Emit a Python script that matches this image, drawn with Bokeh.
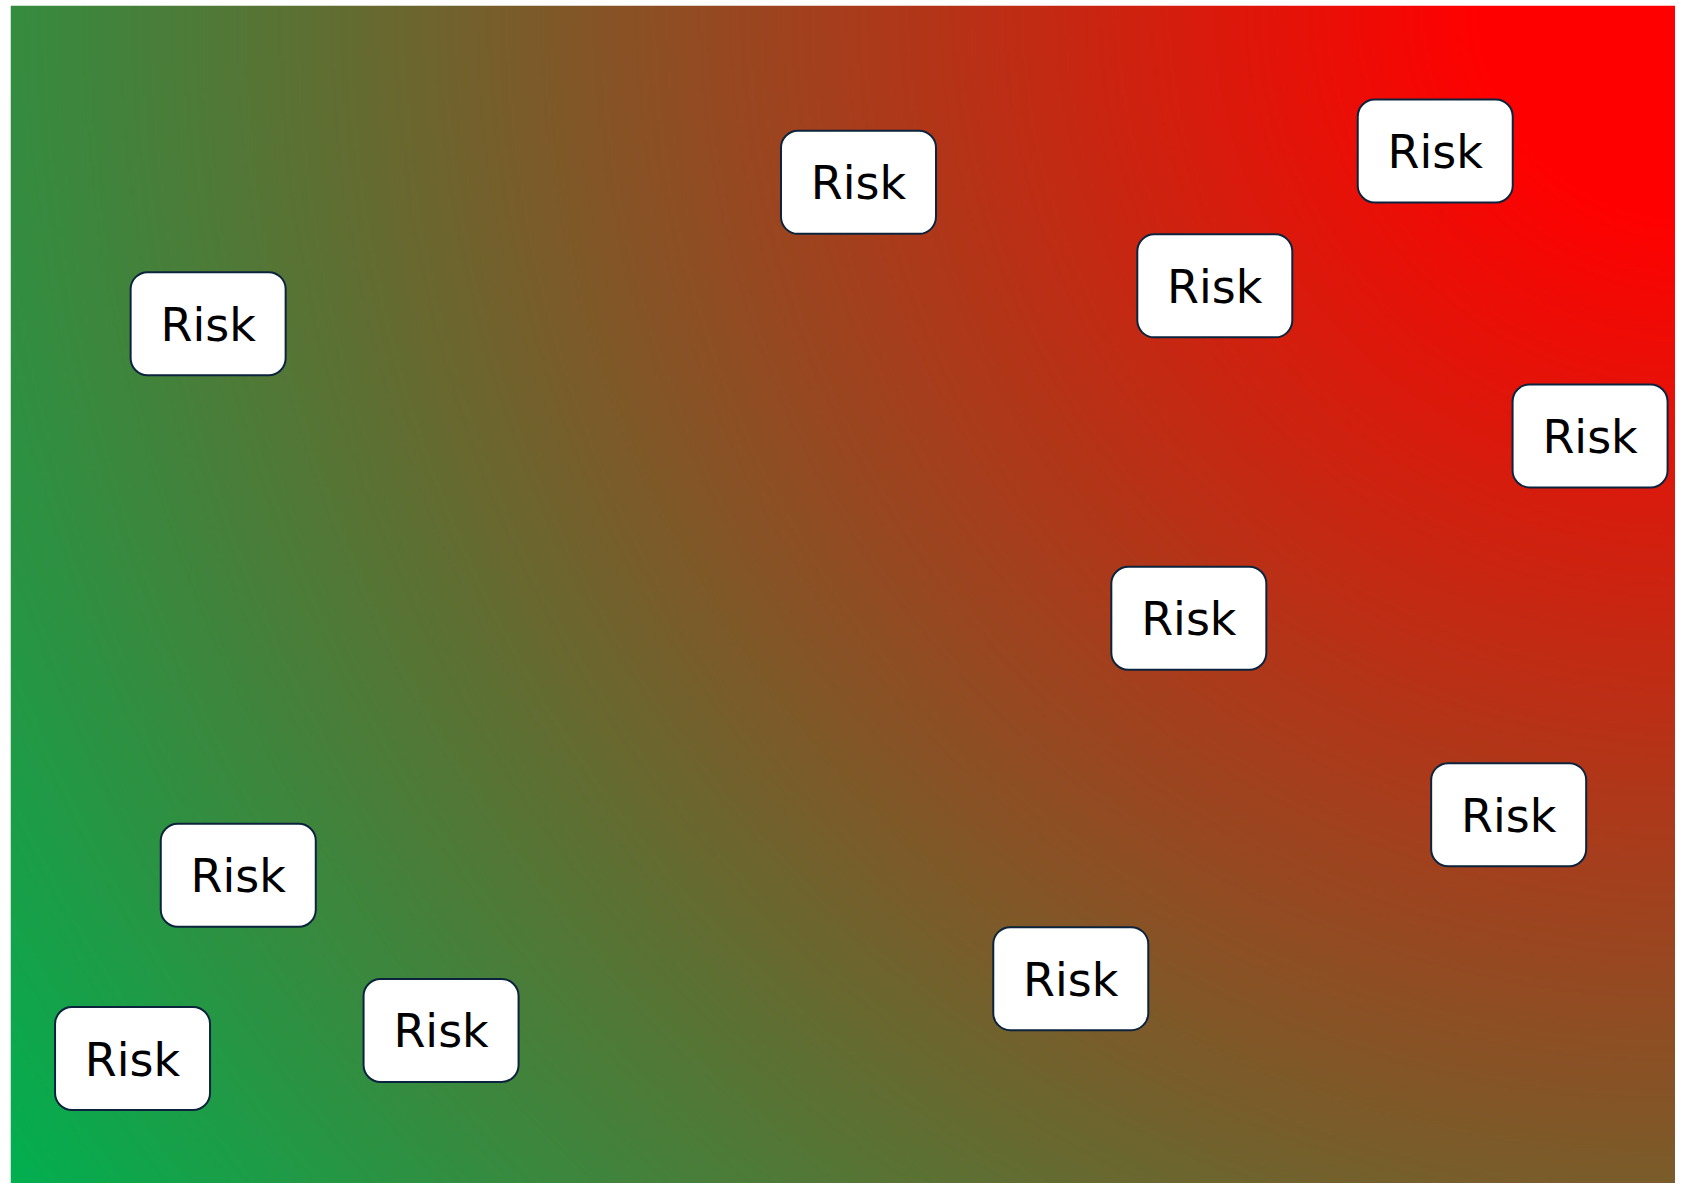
import numpy as np
from bokeh.plotting import figure
from bokeh.models import Range1d, ColumnDataSource
from bokeh.core.properties import value
from bokeh.embed import file_html
from bokeh.resources import INLINE

# ---- data ----
risk_labels = ["Risk"] * 11
likelihood = [50.93, 85.57, 72.33, 11.87, 94.87, 70.77, 89.98, 13.68, 63.68, 25.86, 7.33]
impact = [84.99, 87.65, 76.20, 72.99, 63.46, 47.98, 31.31, 26.17, 17.39, 12.99, 10.61]

X_MIN, X_MAX = 0, 100
Y_MIN, Y_MAX = 0, 100

HOT_COLOR = (255, 0, 0)      # top-right corner
COOL_COLOR = (0, 176, 80)    # far (bottom-left) corner

# ---- layout ----
W, H = 1675, 1183
BORDER_LEFT, BORDER_TOP = 10, 5
FW, FH = W - BORDER_LEFT, H - BORDER_TOP
BOX_W, BOX_H = 155, 103

p = figure(width=W, height=H,
           x_range=Range1d(X_MIN, X_MAX), y_range=Range1d(Y_MIN, Y_MAX),
           output_backend="svg", toolbar_location=None,
           min_border_left=BORDER_LEFT, min_border_top=BORDER_TOP,
           min_border_right=0, min_border_bottom=0)
p.axis.visible = False
p.grid.visible = False
p.outline_line_color = None
p.border_fill_color = "white"

# ---- radial background gradient from the top-right corner ----
step = 3
nx, ny = FW // step, FH // step
px = (np.arange(nx) + 0.5) * FW / nx
py = (np.arange(ny) + 0.5) * FH / ny
PX, PY = np.meshgrid(px, py)
cx, cy = FW + 16, FH
d = np.sqrt((cx - PX) ** 2 + (cy - PY) ** 2)
d0, d1 = 210.0, 2060.0
t = np.clip((d - d0) / (d1 - d0), 0, 1)
img = np.empty((ny, nx), dtype=np.uint32)
view = img.view(dtype=np.uint8).reshape((ny, nx, 4))
for k in range(3):
    view[:, :, k] = np.round(HOT_COLOR[k] * (1 - t) + COOL_COLOR[k] * t).astype(np.uint8)
view[:, :, 3] = 255
p.image_rgba(image=[img], x=X_MIN, y=Y_MIN, dw=X_MAX - X_MIN, dh=Y_MAX - Y_MIN)

src = ColumnDataSource(dict(x=likelihood, y=impact, label=risk_labels))
p.rect(x="x", y="y", width=BOX_W, height=BOX_H,
       width_units="screen", height_units="screen",
       fill_color="white", line_color="#0c233d", line_width=2,
       border_radius=17, source=src)
p.text(x="x", y="y", text="label", source=src, y_offset=1,
       text_font=value("DejaVu Sans"), text_font_size="46px",
       text_align="center", text_baseline="middle", text_color="black")

open("out.html", "w").write(file_html(p, INLINE))
